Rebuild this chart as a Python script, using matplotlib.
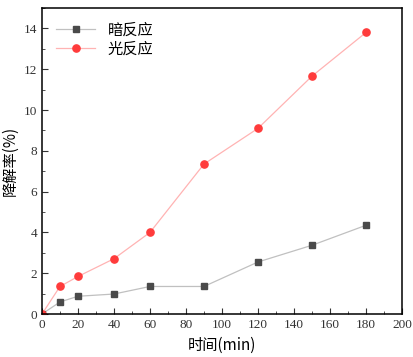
import matplotlib
matplotlib.use("Agg")
import matplotlib.pyplot as plt
from matplotlib.ticker import MultipleLocator

plt.rcParams['font.family'] = ['Liberation Serif', 'Noto Sans CJK SC']

t = [0, 10, 20, 40, 60, 90, 120, 150, 180]
dark = [0, 0.59, 0.87, 0.98, 1.35, 1.35, 2.55, 3.37, 4.35]
light = [0, 1.35, 1.84, 2.71, 4.0, 7.35, 9.1, 11.66, 13.8]

fig = plt.figure(figsize=(4.14, 3.57), dpi=100)
ax = fig.add_axes([0.1014, 0.1204, 0.8696, 0.8572])

ax.plot(t, dark, color='#c0c0c0', lw=0.9, marker='s', ms=4.6,
        mfc='#4a4a4a', mec='#4a4a4a', label='暗反应')
ax.plot(t, light, color='#ffb3b3', lw=0.9, marker='o', ms=5.2,
        mfc='#ff3b3b', mec='#ff3b3b', label='光反应')

ax.set_xlim(0, 200)
ax.set_ylim(0, 15)
ax.xaxis.set_major_locator(MultipleLocator(20))
ax.xaxis.set_minor_locator(MultipleLocator(10))
ax.yaxis.set_major_locator(MultipleLocator(2))
ax.yaxis.set_minor_locator(MultipleLocator(1))
ax.tick_params(which='both', direction='in', labelsize=9.5, colors='#333333')
ax.tick_params(which='major', length=4)
ax.tick_params(which='minor', length=2)
for s in ax.spines.values():
    s.set_linewidth(1.1)

cjk = ['Noto Sans CJK SC', 'DejaVu Sans']
ax.set_xlabel('时间(min)', fontsize=11, family=cjk)
ax.set_ylabel('降解率(%)', fontsize=11, family=cjk)
ax.legend(loc='upper left', frameon=False,
          prop={'family': cjk, 'size': 11},
          handlelength=2.6, borderaxespad=0.5, labelspacing=0.1)

fig.savefig('out.png', dpi=100)
